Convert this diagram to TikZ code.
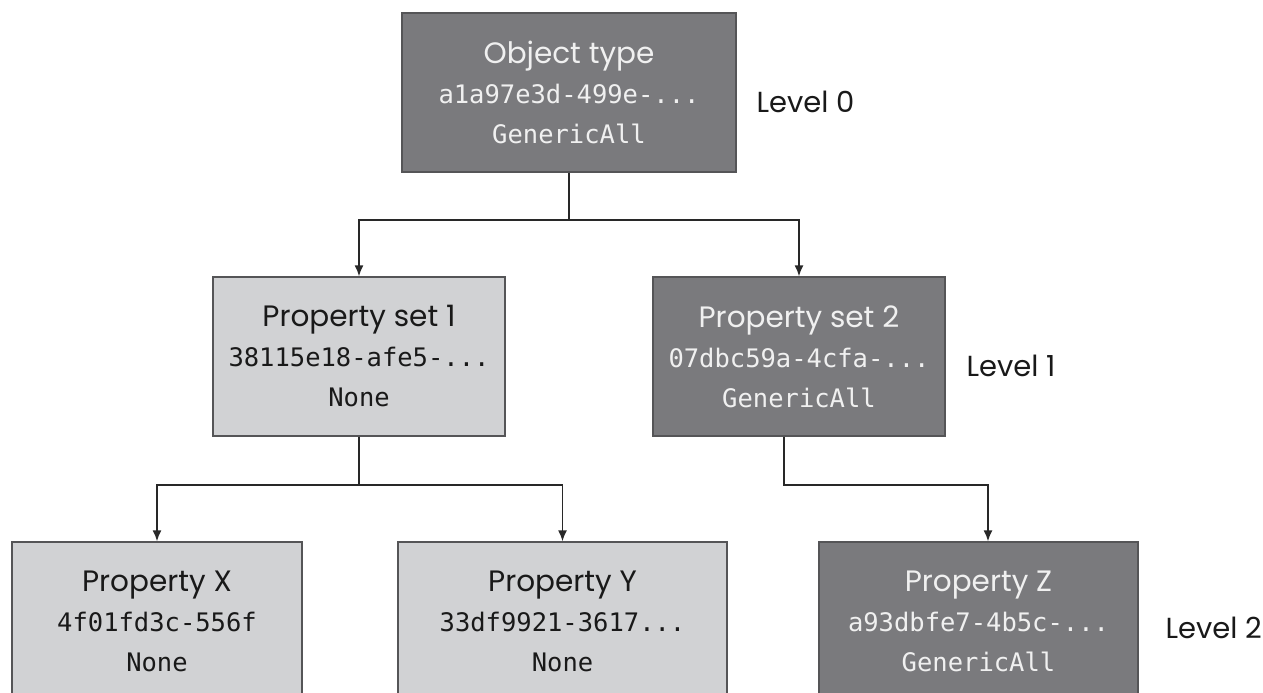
\documentclass[tikz,border=0pt]{standalone}
\usepackage{fontspec}
\usetikzlibrary{arrows.meta}
\newfontfamily\titlefam{Poppins}
\newfontfamily\monofam{DejaVu Sans Mono}
\definecolor{boxdark}{RGB}{122,122,125}
\definecolor{boxlight}{RGB}{209,210,212}
\definecolor{boxline}{RGB}{85,85,87}
\definecolor{wirecol}{RGB}{40,40,40}
\newcommand{\boxtitle}[1]{{\titlefam\fontsize{29.5}{40}\selectfont #1}}
\tikzset{
  box/.style={draw=boxline, line width=1.2pt, inner sep=0pt, minimum height=159pt,
    align=center, font=\monofam\fontsize{25.5}{40}\selectfont},
  darkbox/.style={box, fill=boxdark, text=white!94!black},
  lightbox/.style={box, fill=boxlight, text=black!90},
  level/.style={anchor=base west, font=\titlefam\fontsize{29}{34}\selectfont, text=black!90},
  wire/.style={draw=wirecol, line width=1.8pt, -{Latex[length=11pt,width=9pt]}},
}
\begin{document}
\begin{tikzpicture}[x=1pt,y=-1pt]
  \useasboundingbox (0,0) rectangle (1263,693);
  \clip (0,0) rectangle (1263,693);
  % level 0
  \node[darkbox, minimum width=334pt] (obj) at (569,92.5)
    {\boxtitle{Object type}\\a1a97e3d-499e-...\\GenericAll};
  % level 1
  \node[lightbox, minimum width=292pt] (set1) at (359,356.5)
    {\boxtitle{Property set 1}\\38115e18-afe5-...\\None};
  \node[darkbox, minimum width=292pt] (set2) at (799,356.5)
    {\boxtitle{Property set 2}\\07dbc59a-4cfa-...\\GenericAll};
  % level 2
  \node[lightbox, minimum width=290pt] (propx) at (157,621.5)
    {\boxtitle{Property X}\\4f01fd3c-556f\\None};
  \node[lightbox, minimum width=329pt] (propy) at (562.5,621.5)
    {\boxtitle{Property Y}\\33df9921-3617...\\None};
  \node[darkbox, minimum width=319pt] (propz) at (978.5,621.5)
    {\boxtitle{Property Z}\\a93dbfe7-4b5c-...\\GenericAll};
  \node[level] (lvl0) at (753,112) {Level 0};
  \node[level] (lvl1) at (963,376) {Level 1};
  \node[level] (lvl2) at (1162,638) {Level 2};
  % connectors
  \draw[wire] (obj.south) -- ++(0,47) -| (set1.north);
  \draw[wire] (obj.south) -- ++(0,47) -| (set2.north);
  \draw[wire] (set1.south) -- ++(0,48) -| (propx.north);
  \draw[wire] (set1.south) -- ++(0,48) -| (propy.north);
  \coordinate (set2out) at ([xshift=-15pt]set2.south);
  \coordinate (propzin) at ([xshift=9.5pt]propz.north);
  \draw[wire] (set2out) -- ++(0,48) -| (propzin);
\end{tikzpicture}
\end{document}
